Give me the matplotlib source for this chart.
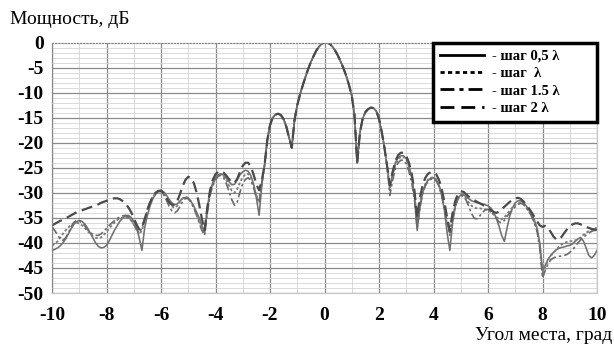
import numpy as np
import matplotlib
matplotlib.use("Agg")
import matplotlib.pyplot as plt
from matplotlib.ticker import MultipleLocator

# ---------------- data (angle in degrees, power in dB) ----------------
x_left = np.linspace(-10.0, -2.3, 78)
x_main = np.linspace(-2.2, 2.3, 46)
x_right = np.linspace(2.4, 10.0, 77)

main_lobe = [
    -24.5, -19.5, -16.5, -15.0, -14.4, -14.2, -14.5, -15.3, -16.8, -19.0,
    -21.0, -15.5, -12.5, -10.4, -8.6, -6.9, -5.3, -3.9, -2.7, -1.6,
    -0.8, -0.25, 0.0, 0.0, -0.3, -0.9, -1.7, -2.7, -3.9, -5.2,
    -6.7, -8.5, -10.6, -14.5, -24.0, -18.0, -15.2, -13.9, -13.3, -13.0,
    -13.1, -13.7, -15.2, -17.8, -21.0, -24.8]

# step 0.5 lambda (solid)
s05_left = [
    -41.5, -41.3, -41.0, -40.6, -40.0, -39.2, -38.2, -37.2, -36.3, -35.8,
    -35.5, -35.7, -36.2, -37.0, -38.0, -39.0, -40.0, -40.7, -41.0, -40.9,
    -40.5, -39.6, -38.5, -37.4, -36.5, -35.6, -35.0, -34.6, -34.5, -34.9,
    -35.7, -36.8, -39.0, -41.5, -37.0, -34.5, -32.6, -31.2, -30.3, -29.7,
    -29.5, -29.8, -30.5, -31.3, -32.0, -32.4, -32.2, -31.6, -31.1, -30.9,
    -31.1, -31.7, -32.6, -33.8, -35.0, -36.5, -38.0, -32.8, -29.8, -28.0,
    -27.0, -26.4, -26.2, -26.5, -27.1, -27.8, -28.4, -28.3, -27.4, -26.4,
    -25.8, -25.5, -25.7, -26.6, -28.3, -31.0, -34.5, -28.5]
s05_right = [
    -29.0, -26.0, -24.0, -23.0, -22.6, -22.6, -23.2, -24.6, -26.8, -30.5,
    -37.5, -33.0, -30.0, -28.4, -27.5, -27.1, -27.0, -27.4, -28.5, -30.5,
    -33.5, -38.0, -41.5, -36.0, -32.8, -31.1, -30.4, -30.4, -30.8, -31.2,
    -31.6, -31.8, -32.0, -32.1, -32.2, -32.4, -32.6, -33.0, -33.8, -35.0,
    -36.6, -38.5, -39.7, -37.0, -34.6, -33.0, -32.0, -31.6, -31.6, -32.0,
    -32.6, -33.3, -34.2, -35.4, -37.0, -40.0, -45.5, -44.5, -43.3, -42.5,
    -41.9, -41.4, -41.1, -40.9, -40.8, -40.6, -40.5, -40.2, -39.7, -39.2,
    -39.0, -39.6, -41.0, -42.5, -43.0, -42.5, -41.5]

# step 1 lambda (dotted)
s1_left = [
    -40.5, -40.2, -39.7, -39.0, -38.2, -37.5, -36.9, -36.4, -36.1, -36.0,
    -36.1, -36.5, -37.0, -37.6, -38.2, -38.7, -39.0, -39.1, -38.9, -38.4,
    -37.8, -37.1, -36.5, -35.9, -35.4, -35.1, -34.9, -34.8, -35.0, -35.5,
    -36.3, -37.3, -38.3, -37.5, -35.5, -33.5, -32.0, -30.9, -30.1, -29.7,
    -29.6, -30.0, -30.9, -31.9, -32.7, -33.0, -32.6, -31.8, -31.1, -30.8,
    -31.0, -31.7, -32.8, -34.1, -35.5, -36.8, -37.5, -33.5, -30.2, -28.3,
    -27.2, -26.5, -26.3, -26.7, -27.5, -28.6, -29.6, -30.0, -29.2, -27.9,
    -26.9, -26.3, -26.2, -27.0, -28.6, -30.5, -31.5, -28.0]
s1_right = [
    -29.5, -26.5, -24.4, -23.3, -22.8, -22.8, -23.4, -24.8, -27.0, -30.2,
    -35.5, -32.0, -29.6, -28.2, -27.4, -27.0, -26.9, -27.3, -28.4, -30.3,
    -33.0, -36.5, -38.5, -35.0, -32.5, -31.0, -30.4, -30.6, -31.2, -32.0,
    -32.6, -33.0, -33.1, -33.1, -33.2, -33.3, -33.5, -33.8, -34.3, -34.8,
    -35.2, -35.3, -34.9, -34.2, -33.5, -32.9, -32.4, -32.1, -32.0, -32.3,
    -32.9, -33.7, -34.6, -35.8, -37.4, -40.5, -46.0, -44.8, -43.5, -42.6,
    -42.0, -41.4, -40.8, -40.3, -40.0, -39.8, -39.7, -39.6, -39.5, -39.3,
    -38.9, -38.4, -38.0, -37.6, -37.3, -37.1, -37.0]

# step 1.5 lambda (dash-dot)
s15_left = [
    -36.8, -37.5, -38.4, -39.2, -39.5, -39.0, -38.0, -36.8, -35.9, -35.5,
    -35.6, -36.0, -36.6, -37.3, -37.9, -38.3, -38.5, -38.5, -38.2, -37.7,
    -37.1, -36.5, -36.0, -35.5, -35.1, -34.8, -34.6, -34.5, -34.8, -35.4,
    -36.3, -37.3, -38.0, -37.0, -35.2, -33.3, -31.8, -30.7, -30.0, -29.7,
    -29.8, -30.4, -31.5, -32.7, -33.6, -34.0, -33.6, -32.7, -31.7, -31.1,
    -31.2, -31.9, -33.0, -34.4, -36.0, -37.5, -38.5, -34.0, -30.5, -28.6,
    -27.4, -26.7, -26.5, -27.0, -28.2, -29.8, -31.4, -32.5, -31.8, -29.8,
    -28.2, -27.3, -27.0, -27.6, -29.0, -31.0, -32.0, -28.0]
s15_right = [
    -30.5, -27.5, -25.2, -24.0, -23.5, -23.5, -24.2, -25.7, -28.0, -31.3,
    -37.0, -33.0, -30.2, -28.6, -27.7, -27.3, -27.2, -27.6, -28.7, -30.5,
    -33.0, -36.0, -38.0, -35.0, -32.6, -31.2, -30.5, -30.7, -31.5, -32.8,
    -34.2, -35.1, -35.2, -34.6, -33.9, -33.4, -33.3, -33.6, -34.3, -35.1,
    -35.8, -36.0, -35.5, -34.7, -34.0, -33.4, -32.8, -32.3, -32.1, -32.3,
    -32.9, -33.7, -34.7, -36.0, -37.7, -41.0, -47.0, -45.5, -44.2, -43.4,
    -43.0, -42.8, -42.7, -42.6, -42.5, -42.3, -41.9, -41.4, -40.7, -40.0,
    -39.4, -38.9, -38.4, -38.0, -37.7, -37.5, -37.5]

# step 2 lambda (dashed)
s2_left = [
    -36.5, -36.2, -35.9, -35.6, -35.4, -35.1, -34.8, -34.5, -34.2, -33.9,
    -33.7, -33.5, -33.3, -33.1, -32.9, -32.7, -32.5, -32.3, -32.0, -31.8,
    -31.6, -31.4, -31.2, -31.1, -31.1, -31.3, -31.7, -32.2, -32.9, -33.8,
    -35.0, -36.3, -37.3, -37.0, -35.3, -33.4, -31.9, -30.8, -30.0, -29.6,
    -29.6, -30.1, -31.0, -31.9, -32.4, -32.4, -31.6, -30.2, -28.6, -27.4,
    -26.8, -27.0, -28.0, -29.8, -32.3, -35.2, -37.5, -33.0, -29.5, -27.4,
    -26.3, -25.8, -25.7, -26.0, -26.6, -27.3, -27.9, -28.0, -27.2, -25.8,
    -24.6, -24.0, -24.0, -24.8, -26.4, -28.3, -29.5, -27.5]
s2_right = [
    -28.5, -25.8, -23.7, -22.5, -22.0, -22.0, -22.6, -24.0, -26.2, -29.5,
    -35.0, -31.0, -28.5, -27.0, -26.2, -25.9, -25.9, -26.3, -27.4, -29.2,
    -31.8, -35.0, -37.5, -34.0, -31.6, -30.2, -29.7, -29.8, -30.3, -30.8,
    -31.2, -31.5, -31.8, -32.1, -32.4, -32.7, -33.0, -33.4, -33.8, -34.0,
    -33.8, -33.3, -32.8, -32.3, -31.8, -31.4, -31.1, -31.0, -31.2, -31.7,
    -32.4, -33.1, -33.9, -34.8, -35.7, -36.5, -36.8, -36.6, -37.0, -37.8,
    -38.7, -39.3, -39.3, -38.8, -38.0, -37.3, -36.7, -36.3, -36.1, -36.1,
    -36.3, -36.6, -36.8, -37.0, -37.2, -37.3, -37.4]

labels = ["- шаг 0,5 λ", "- шаг  λ", "- шаг 1.5 λ", "- шаг 2 λ"]
x_ticks = [-10, -8, -6, -4, -2, 0, 2, 4, 6, 8, 10]
y_ticks = [-50, -45, -40, -35, -30, -25, -20, -15, -10, -5, 0]

# ---------------- figure ----------------
plt.rcParams['font.family'] = ['Liberation Serif', 'DejaVu Serif']
fig = plt.figure(figsize=(6.14, 3.47), dpi=100)
ax = fig.add_axes([52 / 614, 1 - 293 / 347, 545 / 614, 250.5 / 347])

x_all = np.concatenate([x_left, x_main, x_right])
series = [
    (s05_left, s05_right, dict(color='#707070', lw=1.15, ls='-')),
    (s1_left, s1_right, dict(color='#7c7c7c', lw=1.3, ls=(0, (1.5, 1.2)))),
    (s15_left, s15_right, dict(color='#6a6a6a', lw=1.2, ls=(0, (5, 1.8, 1.5, 1.8)))),
    (s2_left, s2_right, dict(color='#4a4a4a', lw=1.6, ls=(0, (5, 2.5)))),
]
handles = []
for (lv, rv, st), lab in zip(series, labels):
    y = np.concatenate([lv, main_lobe, rv])
    assert len(y) == len(x_all), (lab, len(lv), len(rv))
    h, = ax.plot(x_all, y, label=lab, **st)
    handles.append(h)

ax.set_xlim(-10, 10)
ax.set_ylim(-50, 0)
ax.set_xticks(x_ticks)
ax.set_yticks(y_ticks)
ax.xaxis.set_minor_locator(MultipleLocator(1))
ax.yaxis.set_minor_locator(MultipleLocator(1))
ax.grid(which='major', color='#8a8a8a', lw=0.9)
ax.grid(which='minor', color='#d4d4d4', lw=0.6)
ax.set_axisbelow(True)
ax.yaxis.get_gridlines()[-1].set_visible(False)
ax.tick_params(which='both', length=0)
ax.tick_params(axis='x', pad=10)
ax.tick_params(axis='y', pad=6)
ax.set_xticklabels([str(v) for v in x_ticks])
ax.set_yticklabels([str(v) for v in y_ticks])
for lab in ax.get_xticklabels() + ax.get_yticklabels():
    lab.set_fontsize(14)
    lab.set_fontweight('bold')

for side in ['top', 'left']:
    ax.spines[side].set_linestyle((0, (1, 1.5)))
    ax.spines[side].set_color('#888888')
    ax.spines[side].set_linewidth(0.9)
for side in ['right', 'bottom']:
    ax.spines[side].set_color('#c8c8c8')
    ax.spines[side].set_linewidth(0.9)

leg = ax.legend(handles=handles, loc='upper left',
                bbox_to_anchor=((433 - 52) / 545, 0.5, (597 - 433) / 545, 0.5),
                mode='expand', borderaxespad=0, fancybox=False, framealpha=1,
                edgecolor='black', handlelength=3.0, handletextpad=0.55,
                labelspacing=0.28, borderpad=0.5,
                prop={'family': 'Liberation Serif', 'weight': 'bold', 'size': 10.5})
leg.get_frame().set_linewidth(2.5)
for lh in leg.get_lines():
    lh.set_color('black')
    lh.set_linewidth(2.0)

fig.text(10 / 614, 1 - 20 / 347, "Мощность, дБ", fontsize=14, va='center', ha='left')
fig.text(612 / 614, 1 - 335 / 347, "Угол места, град", fontsize=14, va='center', ha='right')

fig.savefig("out.png", dpi=100)
